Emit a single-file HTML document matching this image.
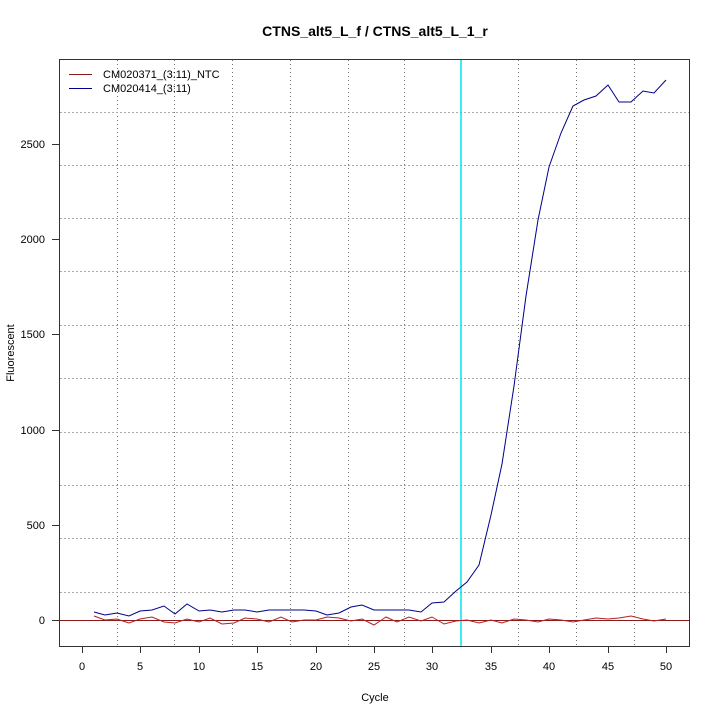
<!DOCTYPE html><html><head><style>body{margin:0;background:#fff}svg{font-family:"Liberation Sans",sans-serif}</style></head><body>
<svg width="720" height="720" xmlns="http://www.w3.org/2000/svg">
<rect width="720" height="720" fill="#fff"/>
<text x="375" y="36" text-anchor="middle" font-size="14" font-weight="bold">CTNS_alt5_L_f / CTNS_alt5_L_1_r</text>
<g stroke="#777" stroke-dasharray="1,3" stroke-width="1">
<line x1="117.5" y1="60" x2="117.5" y2="646"/><line x1="174.5" y1="60" x2="174.5" y2="646"/><line x1="232.5" y1="60" x2="232.5" y2="646"/><line x1="290.5" y1="60" x2="290.5" y2="646"/><line x1="348.5" y1="60" x2="348.5" y2="646"/><line x1="404.5" y1="60" x2="404.5" y2="646"/><line x1="518.5" y1="60" x2="518.5" y2="646"/><line x1="576.5" y1="60" x2="576.5" y2="646"/><line x1="634.5" y1="60" x2="634.5" y2="646"/>
</g>
<g stroke="#aaa" stroke-dasharray="2,2" stroke-width="1">
<line x1="60" y1="112.5" x2="689" y2="112.5"/><line x1="60" y1="165.5" x2="689" y2="165.5"/><line x1="60" y1="218.5" x2="689" y2="218.5"/><line x1="60" y1="271.5" x2="689" y2="271.5"/><line x1="60" y1="325.5" x2="689" y2="325.5"/><line x1="60" y1="378.5" x2="689" y2="378.5"/><line x1="60" y1="432.5" x2="689" y2="432.5"/><line x1="60" y1="485.5" x2="689" y2="485.5"/><line x1="60" y1="538.5" x2="689" y2="538.5"/><line x1="60" y1="592.5" x2="689" y2="592.5"/>
</g>
<line x1="461" y1="60" x2="461" y2="646" stroke="#00e5ee" stroke-width="1.5"/>
<line x1="60" y1="620.5" x2="689" y2="620.5" stroke="#8b1a1a" stroke-width="1"/>
<rect x="59.5" y="59.5" width="630" height="587" fill="none" stroke="#333"/>
<g stroke="#333"><line x1="82.5" y1="646" x2="82.5" y2="653"/><line x1="140.5" y1="646" x2="140.5" y2="653"/><line x1="199.5" y1="646" x2="199.5" y2="653"/><line x1="257.5" y1="646" x2="257.5" y2="653"/><line x1="316.5" y1="646" x2="316.5" y2="653"/><line x1="374.5" y1="646" x2="374.5" y2="653"/><line x1="432.5" y1="646" x2="432.5" y2="653"/><line x1="491.5" y1="646" x2="491.5" y2="653"/><line x1="549.5" y1="646" x2="549.5" y2="653"/><line x1="608.5" y1="646" x2="608.5" y2="653"/><line x1="666.5" y1="646" x2="666.5" y2="653"/>
<line x1="52" y1="620.5" x2="59" y2="620.5"/><line x1="52" y1="525.5" x2="59" y2="525.5"/><line x1="52" y1="430.5" x2="59" y2="430.5"/><line x1="52" y1="334.5" x2="59" y2="334.5"/><line x1="52" y1="239.5" x2="59" y2="239.5"/><line x1="52" y1="144.5" x2="59" y2="144.5"/></g>
<g font-size="11" text-anchor="middle"><text x="82" y="670">0</text><text x="140" y="670">5</text><text x="199" y="670">10</text><text x="257" y="670">15</text><text x="316" y="670">20</text><text x="374" y="670">25</text><text x="432" y="670">30</text><text x="491" y="670">35</text><text x="549" y="670">40</text><text x="608" y="670">45</text><text x="666" y="670">50</text>
<text x="375" y="701">Cycle</text></g>
<g font-size="11" text-anchor="end"><text x="45" y="624">0</text><text x="45" y="529">500</text><text x="45" y="434">1000</text><text x="45" y="338">1500</text><text x="45" y="243">2000</text><text x="45" y="148">2500</text></g>
<text transform="translate(14,353) rotate(-90)" font-size="11" text-anchor="middle">Fluorescent</text>
<line x1="69" y1="74.5" x2="92" y2="74.5" stroke="#8b1a1a"/><line x1="69" y1="88.5" x2="92" y2="88.5" stroke="#00008b"/>
<text x="103" y="78" font-size="11">CM020371_(3:11)_NTC</text><text x="103" y="92" font-size="11">CM020414_(3:11)</text>
<polyline fill="none" stroke="#b22222" stroke-width="1" points="94,616 105,620 117,619 129,623 140,619 152,617 164,622 175,623 187,619 199,622 210,618 222,624 234,623 245,618 257,619 269,622 281,617 292,622 304,620 316,620 327,617 339,618 351,621 362,619 374,625 386,617 397,622 409,617 421,621 432,617 444,624 456,621 467,620 479,623 491,620 502,623 514,619 526,620 538,622 549,619 561,620 573,622 584,620 596,618 608,619 619,618 631,616 643,619 654,621 666,619"/>
<polyline fill="none" stroke="#00008b" stroke-width="1" points="94,612 105,615 117,613 129,616 140,611 152,610 164,606 175,614 187,604 199,611 210,610 222,612 234,610 245,610 257,612 269,610 281,610 292,610 304,610 316,611 327,615 339,613 351,607 362,605 374,610 386,610 397,610 409,610 421,612 432,603 444,602 456,591 467,582 479,565 491,515 502,464 514,386 526,296 538,220 549,167 561,133 573,106 584,100 596,96 608,85 619,102 631,102 643,91 654,93 666,80"/>
</svg></body></html>
